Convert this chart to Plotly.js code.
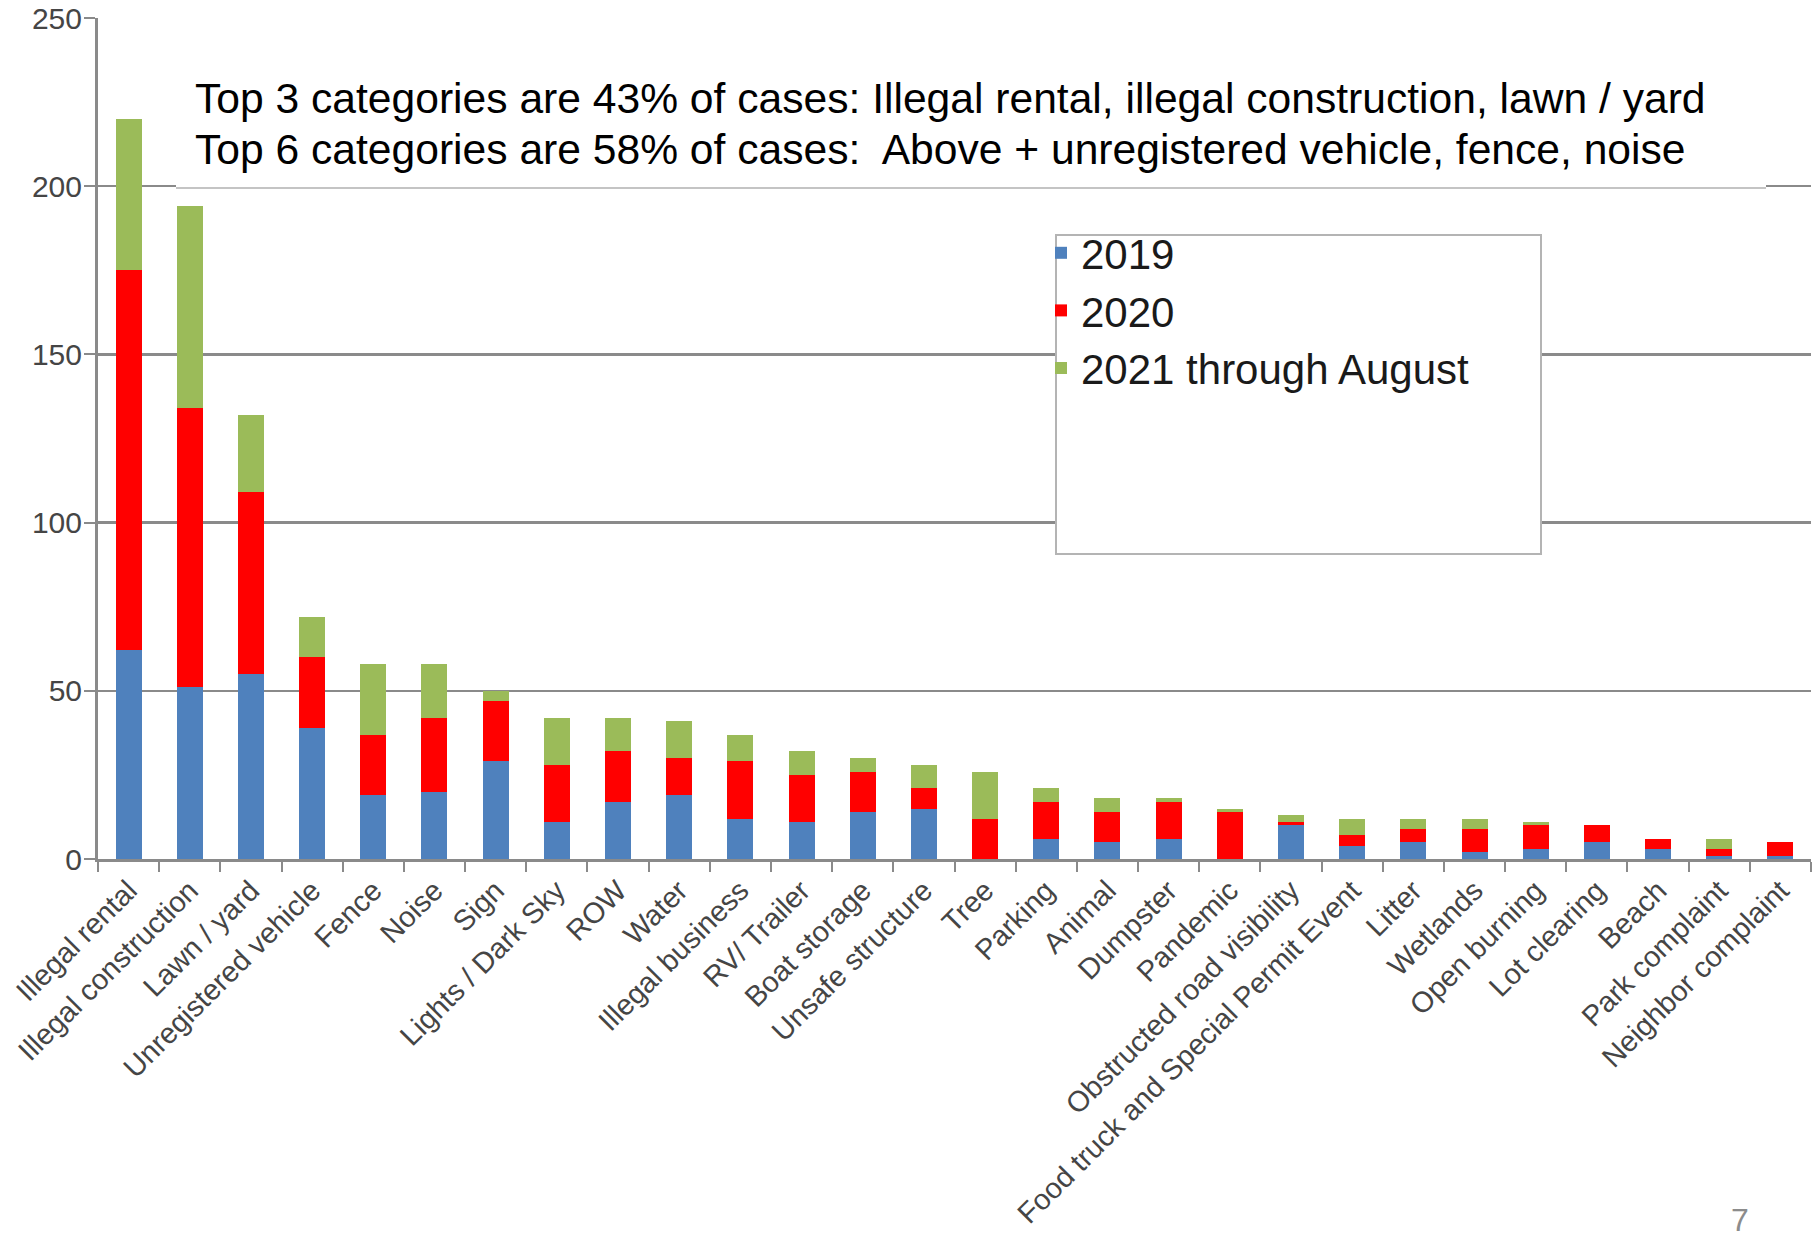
<!DOCTYPE html>
<html>
<head>
<meta charset="utf-8">
<script src="https://cdn.plot.ly/plotly-3.0.1.min.js"></script>
<style>
  html, body { margin: 0; padding: 0; background: #ffffff; }
  #chart { width: 1820px; height: 1237px; }
</style>
</head>
<body>
<div id="chart"></div>
<script>
// ---- Data ----
const categories = [
  "Illegal rental", "Illegal construction", "Lawn / yard", "Unregistered vehicle",
  "Fence", "Noise", "Sign", "Lights / Dark Sky", "ROW", "Water",
  "Illegal business", "RV/ Trailer", "Boat storage", "Unsafe structure", "Tree",
  "Parking", "Animal", "Dumpster", "Pandemic", "Obstructed road visibility",
  "Food truck and Special Permit Event", "Litter", "Wetlands", "Open burning",
  "Lot clearing", "Beach", "Park complaint", "Neighbor complaint"
];
const cases2019 = [62, 51, 55, 39, 19, 20, 29, 11, 17, 19, 12, 11, 14, 15, 0, 6, 5, 6, 0, 10, 4, 5, 2, 3, 5, 3, 1, 1];
const cases2020 = [113, 83, 54, 21, 18, 22, 18, 17, 15, 11, 17, 14, 12, 6, 12, 11, 9, 11, 14, 1, 3, 4, 7, 7, 5, 3, 2, 4];
const cases2021 = [45, 60, 23, 12, 21, 16, 3, 14, 10, 11, 8, 7, 4, 7, 14, 4, 4, 1, 1, 2, 5, 3, 3, 1, 0, 0, 3, 0];
const seriesNames = ["2019", "2020", "2021 through August"];
const yTicks = [0, 50, 100, 150, 200, 250];
const noteLines = [
  "Top 3 categories are 43% of cases: Illegal rental, illegal construction, lawn / yard",
  "Top 6 categories are 58% of cases:  Above + unregistered vehicle, fence, noise"
];
const pageNumber = "7";

// ---- Geometry helpers (pixel -> paper) ----
const W = 1820, H = 1237;
const M = { l: 98, r: 9, t: 18, b: 378 };
const PW = W - M.l - M.r, PH = H - M.t - M.b;
const px = x => (x - M.l) / PW;
const py = y => (H - M.b - y) / PH;

const font = '"Liberation Sans", Arial, Helvetica, sans-serif';
const gridCol = '#8a8a8a';

const colors = ['#4f81bd', '#ff0000', '#9bbb59'];
const values = [cases2019, cases2020, cases2021];

const traces = values.map((v, i) => ({
  type: 'bar',
  name: seriesNames[i],
  x: categories,
  y: v,
  marker: { color: colors[i], line: { width: 0 } },
  hoverinfo: 'x+y+name'
}));

const layout = {
  width: W, height: H,
  margin: M,
  paper_bgcolor: '#ffffff',
  plot_bgcolor: '#ffffff',
  barmode: 'stack',
  bargap: 0.575,
  font: { family: font, color: '#404040', size: 30 },
  showlegend: true,
  legend: {
    x: px(1041), xanchor: 'left',
    y: py(219), yanchor: 'top',
    bgcolor: 'rgba(0,0,0,0)',
    borderwidth: 0,
    traceorder: 'normal',
    font: { family: font, size: 42, color: '#1a1a1a' },
    itemwidth: 30,
    tracegroupgap: 0
  },
  xaxis: {
    type: 'category',
    tickangle: -45,
    tickson: 'boundaries',
    ticks: 'outside',
    ticklen: 10,
    tickwidth: 2,
    tickcolor: gridCol,
    showgrid: false,
    showline: true,
    linecolor: gridCol,
    linewidth: 3,
    zeroline: false,
    tickfont: { family: font, size: 29, color: '#454545' },
    automargin: false
  },
  yaxis: {
    range: [0, 250],
    tickvals: yTicks,
    ticktext: yTicks.map(String),
    ticks: 'outside',
    ticklen: 11,
    tickwidth: 2,
    tickcolor: gridCol,
    ticklabelstandoff: -4,
    showgrid: true,
    gridcolor: gridCol,
    gridwidth: 2.5,
    showline: true,
    linecolor: gridCol,
    linewidth: 3,
    zeroline: false,
    tickfont: { family: font, size: 30, color: '#454545' },
    automargin: false
  },
  shapes: [
    // white box behind the note text (covers the 200 gridline)
    { type: 'rect', xref: 'paper', yref: 'paper', layer: 'above',
      x0: px(176), x1: px(1766), y0: py(187), y1: py(40),
      fillcolor: '#ffffff', line: { width: 0 } },
    { type: 'line', xref: 'paper', yref: 'paper', layer: 'above',
      x0: px(176), x1: px(1766), y0: py(188), y1: py(188),
      line: { color: '#c4c4c4', width: 2 } },
    // legend frame
    { type: 'rect', xref: 'paper', yref: 'paper', layer: 'above',
      x0: px(1056), x1: px(1541), y0: py(554), y1: py(235),
      fillcolor: '#ffffff', line: { color: '#b4b4b4', width: 2 } }
  ],
  annotations: [
    { text: noteLines[0], xref: 'paper', yref: 'paper', x: px(193), y: py(98),
      xanchor: 'left', yanchor: 'middle', showarrow: false,
      font: { family: font, size: 42.6, color: '#000000' } },
    { text: noteLines[1], xref: 'paper', yref: 'paper', x: px(193), y: py(149),
      xanchor: 'left', yanchor: 'middle', showarrow: false,
      font: { family: font, size: 42.6, color: '#000000' } },
    { text: pageNumber, xref: 'paper', yref: 'paper', x: px(1740), y: py(1220),
      xanchor: 'center', yanchor: 'middle', showarrow: false,
      font: { family: font, size: 32, color: '#8c8c8c' } }
  ]
};

Plotly.newPlot('chart', traces, layout, { staticPlot: true, displayModeBar: false });
</script>
</body>
</html>
